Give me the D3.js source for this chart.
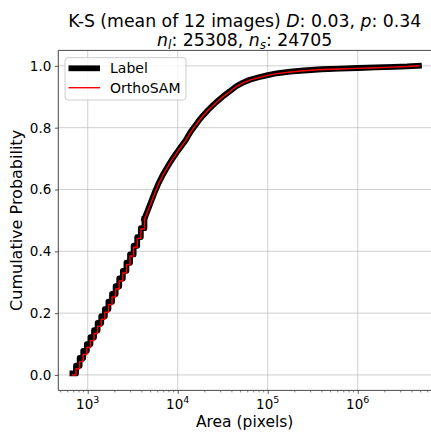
<!DOCTYPE html>
<html>
<head>
<meta charset="utf-8">
<script src="https://cdn.jsdelivr.net/npm/d3@7"></script>
<style>
  body { margin: 0; background: #fff; }
  text { font-family: "DejaVu Sans", sans-serif; fill: #000; }
</style>
</head>
<body>
<div id="chart"></div>
<script>
const svgWidth = 431;
const svgHeight = 432;

const margin = { top: 50.4, right: 0, bottom: 41.6, left: 58.3 };
const width = svgWidth - margin.left - margin.right;
const height = svgHeight - margin.top - margin.bottom;

// ECDF values (area in pixels, cumulative probability)
const areas = [676, 741, 813, 891, 977, 1072, 1175, 1288, 1413, 1549, 1698, 1862, 2042, 2239,
  2455, 2692, 2951, 3236, 3548, 3890, 4266, 4677, 5129, 5623, 6166, 6761, 7413, 8128, 8913,
  9772, 10965, 12303, 13804, 15488, 17378, 19498, 21878, 24547, 28184, 32359, 38019, 44668,
  52481, 63096, 79433, 100000, 125893, 177828, 251189, 398107, 630957, 1000000, 1584893,
  2511886, 3548134, 4786301];
const labelCdf = [0.005, 0.03, 0.055, 0.078, 0.10, 0.122, 0.145, 0.168, 0.19, 0.213, 0.237,
  0.262, 0.287, 0.312, 0.337, 0.363, 0.39, 0.418, 0.446, 0.475, 0.505, 0.535, 0.565, 0.595,
  0.622, 0.645, 0.665, 0.685, 0.703, 0.72, 0.74, 0.76, 0.785, 0.805, 0.825, 0.842, 0.858,
  0.872, 0.888, 0.903, 0.918, 0.934, 0.945, 0.955, 0.963, 0.97, 0.976, 0.981, 0.985, 0.989,
  0.991, 0.993, 0.995, 0.997, 0.998, 1.0];
const orthoCdf = [0.0, 0.02, 0.043, 0.066, 0.089, 0.111, 0.134, 0.157, 0.18, 0.203, 0.227,
  0.252, 0.278, 0.304, 0.33, 0.357, 0.385, 0.413, 0.442, 0.472, 0.502, 0.532, 0.562, 0.592,
  0.62, 0.643, 0.664, 0.684, 0.702, 0.719, 0.739, 0.759, 0.784, 0.804, 0.824, 0.841, 0.857,
  0.871, 0.887, 0.902, 0.917, 0.933, 0.944, 0.954, 0.962, 0.969, 0.975, 0.98, 0.984, 0.988,
  0.99, 0.992, 0.994, 0.996, 0.998, 1.0];

const xTicks = [1e3, 1e4, 1e5, 1e6];
const yTicks = [0, 0.2, 0.4, 0.6, 0.8, 1.0];

const svg = d3.select("#chart")
  .append("svg")
  .attr("width", svgWidth)
  .attr("height", svgHeight);

const chartGroup = svg.append("g")
  .attr("transform", `translate(${margin.left}, ${margin.top})`);

const xScale = d3.scaleLog()
  .domain([Math.pow(10, 2.673), Math.pow(10, 2.673 + width / 90)])
  .range([0, width]);

const yScale = d3.scaleLinear()
  .domain([-0.05, 1.05])
  .range([height, 0]);

// grid
chartGroup.append("g").selectAll("line.gx")
  .data(xTicks).join("line")
  .attr("x1", d => xScale(d)).attr("x2", d => xScale(d))
  .attr("y1", 0).attr("y2", height)
  .attr("stroke", "#b0b0b0").attr("stroke-opacity", 0.6).attr("stroke-width", 1);

chartGroup.append("g").selectAll("line.gy")
  .data(yTicks).join("line")
  .attr("x1", 0).attr("x2", width)
  .attr("y1", d => yScale(d)).attr("y2", d => yScale(d))
  .attr("stroke", "#b0b0b0").attr("stroke-opacity", 0.6).attr("stroke-width", 1);

// minor x ticks
const minor = [];
for (let k = 2; k <= 6; k++) {
  for (let m = 2; m <= 9; m++) {
    const v = m * Math.pow(10, k);
    if (v > xScale.domain()[0] && v < xScale.domain()[1]) minor.push(v);
  }
}

const bottomAxis = d3.axisBottom(xScale).tickValues(xTicks).tickFormat("").tickSize(3.5).tickSizeOuter(0);
const xAxisG = chartGroup.append("g")
  .attr("transform", `translate(0, ${height})`)
  .call(bottomAxis);
xAxisG.select(".domain").remove();
xAxisG.selectAll(".tick line").attr("stroke", "#333").attr("stroke-width", 0.8);

chartGroup.append("g").selectAll("line")
  .data(minor).join("line")
  .attr("x1", d => xScale(d)).attr("x2", d => xScale(d))
  .attr("y1", height).attr("y2", height + 2)
  .attr("stroke", "#333").attr("stroke-width", 0.6);

// x tick labels with superscripts
const xLab = chartGroup.append("g").selectAll("text")
  .data(xTicks).join("text")
  .attr("x", d => xScale(d))
  .attr("y", height + 19)
  .attr("text-anchor", "middle")
  .style("font-size", "13.5px");
xLab.append("tspan").text("10");
xLab.append("tspan")
  .attr("dy", -6)
  .style("font-size", "9.5px")
  .text(d => Math.round(Math.log10(d)));

const leftAxis = d3.axisLeft(yScale).tickValues(yTicks).tickFormat(d3.format(".1f")).tickSize(3.5).tickPadding(3.5).tickSizeOuter(0);
const yAxisG = chartGroup.append("g").call(leftAxis);
yAxisG.select(".domain").remove();
yAxisG.selectAll(".tick line").attr("stroke", "#333").attr("stroke-width", 0.8);
yAxisG.selectAll(".tick text")
  .style("font-family", "DejaVu Sans, sans-serif")
  .style("font-size", "13.5px")
  .attr("fill", "#000");

// spines
chartGroup.append("line").attr("x1", 0).attr("x2", 0).attr("y1", 0).attr("y2", height)
  .attr("stroke", "#333").attr("stroke-width", 0.9);
chartGroup.append("line").attr("x1", 0).attr("x2", width).attr("y1", height).attr("y2", height)
  .attr("stroke", "#333").attr("stroke-width", 0.9);
chartGroup.append("line").attr("x1", 0).attr("x2", width).attr("y1", 0).attr("y2", 0)
  .attr("stroke", "#333").attr("stroke-width", 0.9);

// curves: stepped at the low end, straight segments after
const split = 20;
const labelData = areas.map((a, i) => ({ a: a, p: labelCdf[i] }));
const orthoData = areas.map((a, i) => ({ a: a, p: orthoCdf[i] }));

const stepLine = d3.line()
  .x(d => xScale(d.a))
  .y(d => yScale(d.p))
  .curve(d3.curveStepAfter);
const smoothLine = d3.line()
  .x(d => xScale(d.a))
  .y(d => yScale(d.p));

function drawSeries(data, color, w) {
  chartGroup.append("path")
    .datum(data.slice(0, split + 1))
    .attr("d", stepLine)
    .attr("fill", "none")
    .attr("stroke", color)
    .attr("stroke-width", w)
    .attr("stroke-linecap", "square")
    .attr("stroke-linejoin", "round");
  chartGroup.append("path")
    .datum(data.slice(split))
    .attr("d", smoothLine)
    .attr("fill", "none")
    .attr("stroke", color)
    .attr("stroke-width", w)
    .attr("stroke-linecap", "square")
    .attr("stroke-linejoin", "round");
}
drawSeries(labelData, "#000", 5.8);
drawSeries(orthoData, "red", 1.4);

// legend
const legend = svg.append("g").attr("transform", "translate(65, 57.7)");
legend.append("rect")
  .attr("x", 0).attr("y", 0).attr("width", 121).attr("height", 42.3)
  .attr("rx", 3)
  .attr("fill", "#fff").attr("fill-opacity", 0.8)
  .attr("stroke", "#ccc").attr("stroke-width", 1);
legend.append("line").attr("x1", 3.5).attr("x2", 35).attr("y1", 10.6).attr("y2", 10.6)
  .attr("stroke", "#000").attr("stroke-width", 5.8);
legend.append("line").attr("x1", 3.5).attr("x2", 35).attr("y1", 30).attr("y2", 30)
  .attr("stroke", "red").attr("stroke-width", 1.4);
legend.append("text").attr("x", 45).attr("y", 15.5).style("font-size", "14px").text("Label");
legend.append("text").attr("x", 45).attr("y", 35).style("font-size", "14px").text("OrthoSAM");

// title
const cx = margin.left + width / 2;
const t1 = svg.append("text").attr("x", cx).attr("y", 26.5).attr("text-anchor", "middle")
  .style("font-size", "17.3px");
t1.append("tspan").text("K-S (mean of 12 images) ");
t1.append("tspan").style("font-style", "italic").text("D");
t1.append("tspan").text(": 0.03, ");
t1.append("tspan").style("font-style", "italic").text("p");
t1.append("tspan").text(": 0.34");

const t2 = svg.append("text").attr("x", cx).attr("y", 45.5).attr("text-anchor", "middle")
  .style("font-size", "17.3px");
t2.append("tspan").style("font-style", "italic").text("n");
t2.append("tspan").style("font-style", "italic").style("font-size", "12px").attr("dy", 3).text("l");
t2.append("tspan").attr("dy", -3).text(": 25308, ");
t2.append("tspan").style("font-style", "italic").text("n");
t2.append("tspan").style("font-style", "italic").style("font-size", "12px").attr("dy", 3).text("s");
t2.append("tspan").attr("dy", -3).text(": 24705");

// axis labels
svg.append("text")
  .attr("x", cx).attr("y", 427)
  .attr("text-anchor", "middle")
  .style("font-size", "15.5px")
  .text("Area (pixels)");

svg.append("text")
  .attr("transform", `translate(22, ${margin.top + height / 2}) rotate(-90)`)
  .attr("text-anchor", "middle")
  .style("font-size", "16px")
  .text("Cumulative Probability");
</script>
</body>
</html>
